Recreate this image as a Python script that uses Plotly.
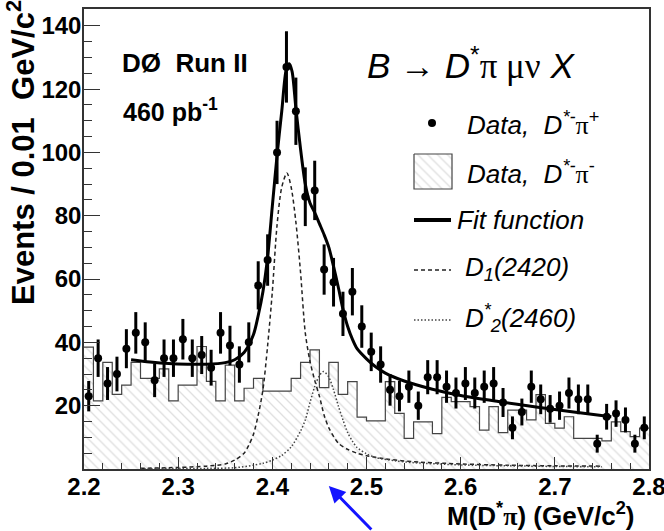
import numpy as np
import plotly.graph_objects as go

# D*- pi+ data, 0.01 GeV bins from 2.20 to 2.80
MASS = np.round(2.205 + 0.01 * np.arange(60), 3)
COUNTS = [23, 35, 27, 30, 38, 43, 40, 28, 35, 35,
          41, 35, 36, 32, 43, 39, 33, 40, 58, 66,
          100, 127, 113, 86, 88, 63, 59, 49, 56, 45,
          37, 33, 25, 23, 26, 20, 29, 29, 26, 24,
          27, 24, 26, 27, 21, 13, 18, 26, 22, 19,
          20, 24, 22, 22, 8, 16.5, 17.5, 15.5, 8, 13]

# D*- pi- (wrong sign) histogram
WRONG_SIGN = [38.5, 21.5, 33.7, 23.6, 26.5, 33.7, 28.6, 28.6, 31.6, 21.5,
              26.5, 26.5, 38.7, 27.7, 21.5, 32.8, 21.5, 25.5, 28.6, 24.6,
              24.6, 24.6, 28.6, 33.7, 37.6, 25.7, 33.7, 23.6, 27.6, 16.4,
              15.2, 15.2, 27.6, 17.6, 9.7, 14.9, 14.9, 11.2, 22.6, 21.3,
              21.3, 19.7, 12.3, 19.7, 11.5, 18.6, 18.6, 15.5, 23.5, 14.4,
              12.9, 16.5, 9.7, 9.7, 9.7, 8.9, 14.9, 11.8, 10.2, 12.9]

FIT_X = [2.25, 2.27, 2.29, 2.31, 2.33, 2.35, 2.36, 2.37, 2.38, 2.385,
         2.39, 2.395, 2.40, 2.405, 2.41, 2.415, 2.418, 2.421, 2.425, 2.43,
         2.435, 2.44, 2.445, 2.45, 2.455, 2.46, 2.465, 2.47, 2.475, 2.48,
         2.485, 2.49, 2.50, 2.51, 2.52, 2.54, 2.57, 2.60, 2.64, 2.68,
         2.72, 2.76]
FIT_Y = [34.5, 33.8, 33.3, 33.1, 33.1, 33.6, 34.5, 36.8, 42.5, 48.5,
         56, 67, 83, 99, 113, 126.5, 128, 125.5, 114, 101,
         90, 84, 81, 77.5, 74, 70, 64, 57.5, 50.5, 45,
         41, 38, 34.8, 32.2, 30.3, 27.8, 25.2, 23.2, 21.3, 19.6,
         18.0, 16.5]

D1_X = [2.26, 2.30, 2.33, 2.35, 2.36, 2.37, 2.375, 2.38, 2.385, 2.39,
        2.395, 2.40, 2.405, 2.41, 2.4155, 2.42, 2.425, 2.43, 2.435, 2.44,
        2.445, 2.45, 2.455, 2.46, 2.47, 2.48, 2.49, 2.50, 2.52, 2.55,
        2.60, 2.65, 2.70, 2.75]
D1_Y = [0.2, 0.5, 0.9, 1.6, 2.8, 5, 7.5, 11, 17, 25,
        39, 56, 77, 89, 93.5, 89, 78, 62, 43, 34,
        28, 23, 17, 13, 8.2, 6.2, 5, 4.2, 3.2, 2.3,
        1.6, 1.2, 1.0, 0.9]

D2_X = [2.26, 2.33, 2.36, 2.38, 2.39, 2.40, 2.41, 2.42, 2.43, 2.435,
        2.44, 2.445, 2.45, 2.4545, 2.46, 2.465, 2.47, 2.475, 2.48, 2.485,
        2.49, 2.50, 2.51, 2.53, 2.55, 2.60, 2.65, 2.70, 2.75]
D2_Y = [0.1, 0.2, 0.4, 1.2, 1.8, 2.8, 4.3, 7, 12, 15.5,
        21, 26, 29.5, 30.8, 29, 25, 20, 15.5, 11.5, 8.8,
        6.8, 4.8, 3.6, 2.6, 2.0, 1.3, 1.0, 0.8, 0.7]

X_TICKS = [2.2, 2.3, 2.4, 2.5, 2.6, 2.7, 2.8]
Y_TICKS = [0, 20, 40, 60, 80, 100, 120, 140]

W, H = 664, 531
L, R, T, B = 84, 15, 9, 62
SANS = "Liberation Sans"
SERIF = "Liberation Serif"


def px(x):
    return (x - L) / (W - L - R)


def py(y):
    return (H - B - y) / (H - T - B)


def main():
    fig = go.Figure()
    hatch = dict(shape="\\", fgcolor="#bdbdbd", bgcolor="white", size=7, solidity=0.18)

    edges = np.round(2.20 + 0.01 * np.arange(61), 3)
    fig.add_trace(go.Scatter(x=edges, y=WRONG_SIGN + [WRONG_SIGN[-1]], mode="lines",
                             line=dict(shape="hv", color="#444", width=1.2),
                             fill="tozeroy", fillcolor="white", fillpattern=hatch))
    fig.add_trace(go.Scatter(x=D1_X, y=D1_Y, mode="lines",
                             line=dict(shape="spline", smoothing=0.8, color="#222",
                                       width=1.5, dash="4px,3px")))
    fig.add_trace(go.Scatter(x=D2_X, y=D2_Y, mode="lines",
                             line=dict(shape="spline", smoothing=0.8, color="#444",
                                       width=1.5, dash="1.5px,2px")))
    fig.add_trace(go.Scatter(x=FIT_X, y=FIT_Y, mode="lines",
                             line=dict(shape="spline", smoothing=0.8, color="black", width=3)))
    fig.add_trace(go.Scatter(x=MASS, y=COUNTS, mode="markers",
                             marker=dict(color="black", size=8),
                             error_y=dict(type="data", array=np.sqrt(COUNTS),
                                          color="black", thickness=3, width=0)))

    # legend swatches, drawn on a pixel-scaled overlay axis
    ov = dict(xaxis="x2", yaxis="y2", showlegend=False, hoverinfo="skip")
    fig.add_trace(go.Scatter(x=[432], y=[123], mode="markers",
                             marker=dict(color="black", size=8), **ov))
    fig.add_trace(go.Scatter(x=[414, 452, 452, 414, 414], y=[154, 154, 189, 189, 154],
                             mode="lines", fill="toself", fillcolor="white",
                             fillpattern=hatch, line=dict(color="#444", width=1.2), **ov))
    fig.add_trace(go.Scatter(x=[414, 451], y=[220, 220], mode="lines",
                             line=dict(color="black", width=4), **ov))
    fig.add_trace(go.Scatter(x=[414, 451], y=[270, 270], mode="lines",
                             line=dict(color="#222", width=1.5, dash="4px,3px"), **ov))
    fig.add_trace(go.Scatter(x=[414, 452], y=[320, 320], mode="lines",
                             line=dict(color="#444", width=1.5, dash="1.5px,2px"), **ov))

    pi = f"<span style='font-family:{SERIF}'>π</span>"
    legend_rows = [
        (465, 123, f"<i>Data,\u00a0\u00a0D<sup>*-</sup></i>{pi}<sup>+</sup>"),
        (465, 172, f"<i>Data,\u00a0\u00a0D<sup>*-</sup></i>{pi}<sup>-</sup>"),
        (455, 220, "<i>Fit function</i>"),
        (463, 268, "<i>D<sub>1</sub>(2420)</i>"),
        (463, 318, "<i>D<sup>*</sup><sub>2</sub>(2460)</i>"),
    ]
    ann = []
    for x, y, text in legend_rows:
        ann.append(dict(x=x, y=y, xref="x2", yref="y2", text=text, showarrow=False,
                        xanchor="left", yanchor="middle",
                        font=dict(family=SANS, size=26, color="black")))

    ann.append(dict(x=365, y=63, xref="x2", yref="y2", showarrow=False,
                    xanchor="left", yanchor="middle",
                    text=(f"<i>B</i> → <i>D</i><sup>*</sup>"
                          f"<span style='font-family:{SERIF}'>π μν</span> <i>X</i>"),
                    font=dict(family=SANS, size=35, color="black")))
    ann.append(dict(x=120, y=63, xref="x2", yref="y2", showarrow=False,
                    xanchor="left", yanchor="middle", text="<b>DØ\u00a0\u00a0Run II</b>",
                    font=dict(family=SANS, size=26, color="black")))
    ann.append(dict(x=121, y=110, xref="x2", yref="y2", showarrow=False,
                    xanchor="left", yanchor="middle", text="<b>460 pb<sup>-1</sup></b>",
                    font=dict(family=SANS, size=25, color="black")))
    ann.append(dict(x=px(21), y=py(153), xref="paper", yref="paper", showarrow=False,
                    textangle=-90, xanchor="center", yanchor="middle",
                    text="<b>Events / 0.01\u00a0\u00a0GeV/c<sup>2</sup></b>",
                    font=dict(family=SANS, size=31, color="black")))
    ann.append(dict(x=px(636), y=py(514), xref="paper", yref="paper", showarrow=False,
                    xanchor="right", yanchor="middle",
                    text=f"<b>M(D<sup>*</sup>{pi}) (GeV/c<sup>2</sup>)</b>",
                    font=dict(family=SANS, size=26, color="black")))
    ann.append(dict(x=2.46, y=py(486), xref="x", yref="paper", text="", showarrow=True,
                    ax=44, ay=52, arrowcolor="#1414ff", arrowwidth=3,
                    arrowhead=2, arrowsize=1.1))

    axis_font = dict(family=SANS, size=24, color="black")
    fig.update_layout(
        width=W, height=H, margin=dict(l=L, r=R, t=T, b=B, autoexpand=False),
        paper_bgcolor="white", plot_bgcolor="white", showlegend=False,
        annotations=ann,
        xaxis=dict(range=[2.2, 2.8], tickvals=X_TICKS,
                   ticktext=[f"<b>{v:.1f}</b>" for v in X_TICKS],
                   ticklabeloverflow="allow", ticklabelstandoff=-5,
                   ticks="inside", ticklen=12, tickwidth=1.2, tickcolor="#333",
                   minor=dict(dtick=0.02, tick0=2.2, ticks="inside", ticklen=6,
                              tickcolor="#333", showgrid=False),
                   showline=True, mirror=True, linecolor="#333", linewidth=1.5,
                   showgrid=False, zeroline=False, tickfont=axis_font),
        yaxis=dict(range=[0, 145.3], tickvals=Y_TICKS,
                   ticktext=[""] + [f"<b>{v}</b>" for v in Y_TICKS[1:]],
                   ticklabeloverflow="allow", ticklabelstandoff=-4,
                   ticks="inside", ticklen=16, tickwidth=1.2, tickcolor="#333",
                   minor=dict(dtick=5, tick0=0, ticks="inside", ticklen=8,
                              tickcolor="#333", showgrid=False),
                   showline=True, mirror=True, linecolor="#333", linewidth=1.5,
                   showgrid=False, zeroline=False, tickfont=axis_font),
        xaxis2=dict(overlaying="x", range=[L, W - R], visible=False),
        yaxis2=dict(overlaying="y", range=[H - B, T], visible=False),
    )
    # drop the default page margin so the figure fills the window
    fig.write_html("out.html", config={"displayModeBar": False},
                   post_script="document.body.style.margin='0';")


if __name__ == "__main__":
    main()
